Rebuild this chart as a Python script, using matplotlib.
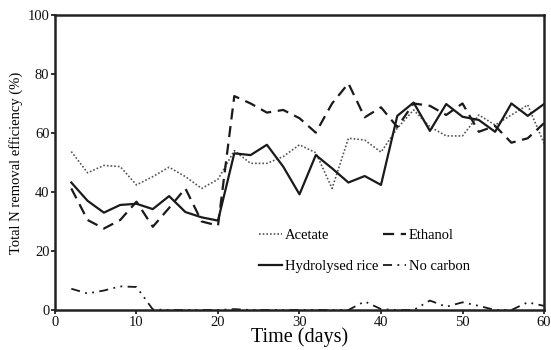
import matplotlib
matplotlib.use("Agg")
import matplotlib.pyplot as plt

plt.rcParams['font.family'] = ['Liberation Serif', 'DejaVu Serif']

days = list(range(2, 62, 2))

acetate = [53.7, 46.5, 49.0, 48.6, 42.4, 45.2, 48.4, 45.2, 41.2, 44.3,
           54.0, 49.7, 49.7, 52.0, 56.0, 53.3, 41.2, 58.2, 57.6, 53.5,
           61.6, 67.8, 62.1, 59.0, 59.0, 66.1, 62.7, 66.1, 69.5, 56.5]
ethanol = [41.2, 30.5, 27.6, 30.5, 36.7, 28.2, 34.6, 41.2, 30.0, 28.6,
           72.5, 70.0, 66.9, 67.8, 65.0, 60.1, 70.0, 76.8, 65.3, 68.7,
           62.0, 70.0, 69.2, 66.1, 70.0, 60.4, 62.4, 56.7, 58.2, 63.3]
hydrolysed = [43.2, 37.0, 33.0, 35.6, 36.0, 34.2, 38.6, 33.2, 31.4, 30.3,
              53.1, 52.5, 56.0, 48.6, 39.2, 52.5, 48.0, 43.2, 45.4, 42.4,
              65.8, 70.3, 60.7, 69.8, 65.5, 64.4, 60.4, 70.0, 65.8, 69.8]
no_carbon = [7.2, 5.6, 6.6, 8.0, 7.8, 0.2, 0, 0, 0, 0,
             0.3, 0, 0, 0, 0, 0, 0, 0, 2.9, 0.3,
             0, 0, 3.2, 1.1, 2.6, 1.4, 0, 0, 2.6, 1.4]

fig = plt.figure(figsize=(5.51, 3.5), dpi=100)
ax = fig.add_axes([0.0998, 0.1143, 0.8875, 0.843])

l_ac, = ax.plot(days, acetate, color='#555555', linestyle=(0, (1, 1.2)), linewidth=1.2, label='Acetate')
l_et, = ax.plot(days, ethanol, color='#1a1a1a', linestyle=(0, (5, 3)), linewidth=1.6, label='Ethanol')
l_hr, = ax.plot(days, hydrolysed, color='#1a1a1a', linestyle='-', linewidth=1.6, label='Hydrolysed rice')
l_nc, = ax.plot(days, no_carbon, color='#1a1a1a', linestyle=(0, (5, 3, 1, 3, 1, 3)), linewidth=1.3, label='No carbon')

ax.set_xlim(0, 60)
ax.set_ylim(0, 100)
ax.set_xticks(range(0, 61, 10))
ax.set_yticks(range(0, 101, 20))
ax.tick_params(direction='out', length=3, width=1.2, labelsize=10.5, colors='#111111', pad=1)
for s in ax.spines.values():
    s.set_linewidth(1.8)
    s.set_color('#222222')

ax.set_xlabel('Time (days)', fontsize=14.5, labelpad=-1)
ax.set_ylabel('Total N removal efficiency (%)', fontsize=10.5, labelpad=3)

# column-major order so rows read Acetate/Ethanol, Hydrolysed rice/No carbon
ax.legend([l_ac, l_hr, l_et, l_nc], ['Acetate', 'Hydrolysed rice', 'Ethanol', 'No carbon'],
          loc='upper left', bbox_to_anchor=(0.39, 0.32), ncol=2, frameon=False,
          fontsize=10.5, handlelength=1.6, handletextpad=0.2, columnspacing=0.3,
          labelspacing=1.2)

fig.savefig('out.png', dpi=100)
